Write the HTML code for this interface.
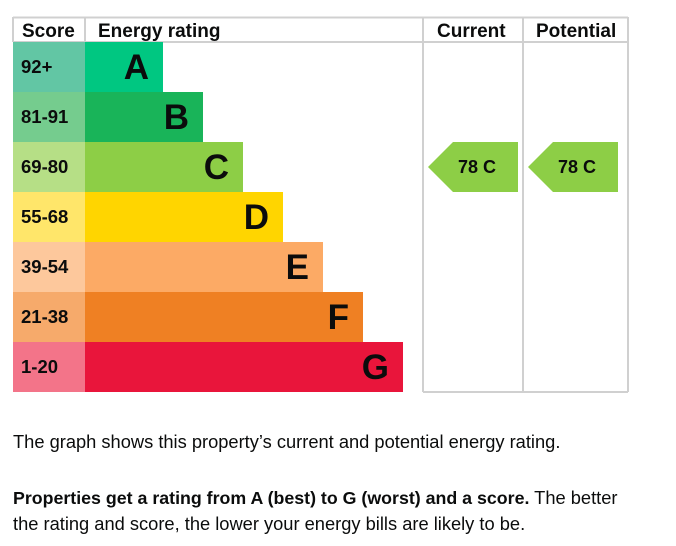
<!DOCTYPE html>
<html><head><meta charset="utf-8"><style>
body{margin:0;background:#fff;width:676px;height:546px;overflow:hidden;font-family:"Liberation Sans",Arial,sans-serif;}
svg{position:absolute;left:0;top:0}
p{position:absolute;left:13px;margin:0;font-size:18.3px;color:#0b0c0c;line-height:25px;width:632px}
p b{font-size:17.8px}
</style></head><body>
<svg id="chart" width="676" height="400"></svg>
<p style="top:429px">The graph shows this property’s current and potential energy rating.</p>
<p style="top:485px"><b>Properties get a rating from A (best) to G (worst) and a score.</b> The better the rating and score, the lower your energy bills are likely to be.</p>
<script>
const bands=['A','B','C','D','E','F','G'];
const scoreRanges=['92+','81-91','69-80','55-68','39-54','21-38','1-20'];
const bandColors=['#00c781','#19b459','#8dce46','#ffd500','#fcaa65','#ef8023','#e9153b'];
const scoreColors=['#62c6a4','#75cc8e','#b6df86','#ffe66a','#fdc89c','#f6aa6b','#f37489'];
const currentScore=78, currentBand='C';
const potentialScore=78, potentialBand='C';
const NS='http://www.w3.org/2000/svg';
const svg=document.getElementById('chart');
function mk(t,a,txt){const e=document.createElementNS(NS,t);for(const k in a)e.setAttribute(k,a[k]);if(txt!==undefined)e.textContent=txt;svg.appendChild(e);return e;}
const top0=42,rowH=50,barX=85,barW0=78,barStep=40;
function rowY(i){return top0+i*rowH;}
const grid='#d0d0d0';
let l;
l=mk('line',{x1:13,y1:17.5,x2:628,y2:17.5,stroke:grid,'stroke-width':2});

l=mk('line',{x1:13,y1:42,x2:628,y2:42,stroke:grid,'stroke-width':2});

[[13,17,42],[85,17,42],[423,17,392],[523,17,392],[628,17,392]].forEach(v=>{
 l=mk('line',{x1:v[0],y1:v[1],x2:v[0],y2:v[2],stroke:grid,'stroke-width':2});
 
});
l=mk('line',{x1:423,y1:392,x2:628,y2:392,stroke:grid,'stroke-width':2});

[['Score',22,'score-header'],['Energy rating',98,'energy-rating-header'],['Current',437,'current-header'],['Potential',536,'potential-header']].forEach(h=>{
 const t=mk('text',{x:h[1],y:37,'font-size':19,'font-weight':'bold',fill:'#0b0c0c'},h[0]);
 
});
bands.forEach((b,i)=>{
 const y=rowY(i);
 let r=mk('rect',{x:13,y:y,width:72,height:rowH,fill:scoreColors[i]});
 
 const w=barW0+i*barStep;
 r=mk('rect',{x:barX,y:y,width:w,height:rowH,fill:bandColors[i]});
 
 let t=mk('text',{x:21,y:y+31,'font-size':18.5,'font-weight':'bold',fill:'#0b0c0c'},scoreRanges[i]);
 
 t=mk('text',{x:barX+w-14,y:y+37,'font-size':35,'font-weight':'bold',fill:'#0b0c0c','text-anchor':'end'},b);
 
});
function arrow(x0,score,band,name){
 const i=bands.indexOf(band),y=rowY(i);
 const p=mk('polygon',{points:`${x0},${y+25} ${x0+25},${y} ${x0+90},${y} ${x0+90},${y+50} ${x0+25},${y+50}`,fill:bandColors[i]});
 
 const t=mk('text',{x:x0+30,y:y+31,'font-size':18,'font-weight':'bold',fill:'#0b0c0c','xml:space':'preserve'},score+'  '+band);
 
}
arrow(428,currentScore,currentBand,'current');
arrow(528,potentialScore,potentialBand,'potential');
</script>
</body></html>
